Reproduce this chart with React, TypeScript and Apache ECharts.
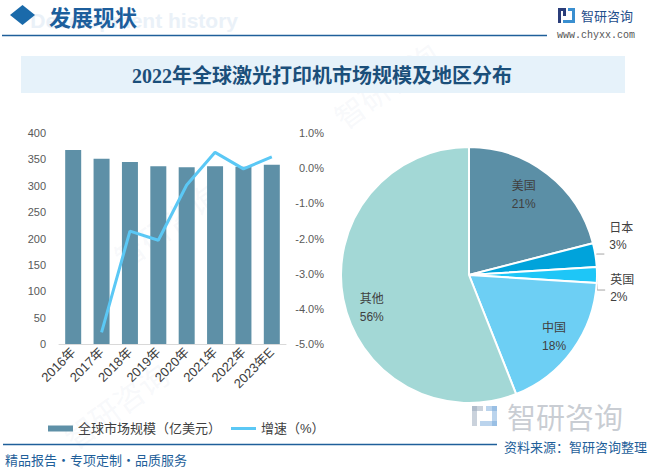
import React, { useEffect, useRef } from "react";
import * as echarts from "echarts";

const years = ["2016年", "2017年", "2018年", "2019年", "2020年", "2021年", "2022年", "2023年E"];
const marketSize = [368, 351, 345, 337, 335, 337, 336, 340];
const growthRate = [null, -4.67, -1.79, -2.05, -0.48, 0.45, -0.02, 0.32];
const regions = ["美国", "日本", "英国", "中国", "其他"];
const regionShares = [21, 3, 2, 18, 56];

const barName = "全球市场规模（亿美元）";
const lineName = "增速（%）";

const regionColors: Record<string, string> = {
  美国: "#5B8FA6",
  日本: "#00A3DB",
  英国: "#1EC6F7",
  中国: "#6DCFF4",
  其他: "#A3D8D6",
};
const outsideLabels = ["日本", "英国"];
const insideOffsets: Record<string, number[]> = {
  美国: [-6, -2],
  中国: [5, 4],
  其他: [0, 14],
};

const FONT = "'Liberation Sans', 'Noto Sans CJK SC', sans-serif";
const BLUE = "#1F5F9A";

export default function App() {
  const ref = useRef<HTMLDivElement>(null);
  useEffect(() => {
    if (!ref.current) return;
    const chart = echarts.init(ref.current, null, { renderer: "svg" });
    const watermark = (x: number, y: number) => ({
      type: "text",
      x,
      y,
      rotation: Math.PI / 5,
      silent: true,
      style: {
        text: "智研咨询",
        fontSize: 30,
        fontFamily: FONT,
        fill: "rgba(200,212,225,0.15)",
      },
      z: 0,
    });
    chart.setOption({
      animation: false,
      backgroundColor: "#ffffff",
      textStyle: { fontFamily: FONT },
      legend: {
        left: 43,
        top: 417,
        itemWidth: 25,
        itemHeight: 6,
        itemGap: 10,
        data: [
          { name: barName, icon: "rect" },
          { name: lineName, icon: "path://M0,0H25V3H0Z" },
        ],
        textStyle: { fontSize: 13, color: "#404040", fontFamily: FONT },
      },
      grid: { left: 59, right: 367, top: 133, bottom: 125 },
      xAxis: {
        type: "category",
        data: years,
        axisLine: { lineStyle: { color: "#D9D9D9" } },
        axisTick: { show: false },
        axisLabel: {
          rotate: 45,
          interval: 0,
          margin: 6,
          fontSize: 13,
          color: "#404040",
          fontFamily: FONT,
        },
      },
      yAxis: [
        {
          type: "value",
          min: 0,
          max: 400,
          interval: 50,
          splitLine: { show: false },
          axisLine: { show: false },
          axisTick: { show: false },
          axisLabel: { fontSize: 11, color: "#595959", margin: 13 },
        },
        {
          type: "value",
          min: -5,
          max: 1,
          interval: 1,
          position: "right",
          splitLine: { show: false },
          axisLine: { show: false },
          axisTick: { show: false },
          axisLabel: {
            fontSize: 11,
            color: "#595959",
            align: "right",
            margin: 38,
            formatter: (v: number) => v.toFixed(1) + "%",
          },
        },
      ],
      series: [
        {
          name: barName,
          type: "bar",
          data: marketSize,
          barWidth: 16,
          itemStyle: { color: "#5E90A7" },
          z: 2,
        },
        {
          name: lineName,
          type: "line",
          yAxisIndex: 1,
          data: growthRate,
          symbol: "none",
          lineStyle: { color: "#5BC8F5", width: 3 },
          itemStyle: { color: "#5BC8F5" },
          z: 3,
        },
        {
          name: "地区分布",
          type: "pie",
          center: [469, 275],
          radius: [0, 128],
          startAngle: 90,
          clockwise: true,
          data: regions.map((n, i) => ({
            name: n,
            value: regionShares[i],
            itemStyle: { color: regionColors[n] },
            label: { show: outsideLabels.includes(n) },
            labelLine: { show: outsideLabels.includes(n) },
          })),
          itemStyle: { borderColor: "#ffffff", borderWidth: 2 },
          label: {
            position: "outside",
            formatter: "{b}\n{c}%",
            fontSize: 12,
            lineHeight: 17,
            color: "#404040",
            align: "center",
          },
          labelLine: {
            length: 6,
            length2: 8,
            lineStyle: { color: "#A6A6A6", width: 1 },
          },
          labelLayout: (p: any) => (p.dataIndex === 1 ? { dy: -18 } : { dy: -2 }),
        },
        {
          name: "地区分布标签",
          type: "pie",
          center: [469, 275],
          radius: [64, 128],
          startAngle: 90,
          clockwise: true,
          silent: true,
          z: 3,
          data: regions.map((n, i) => ({
            name: n,
            value: regionShares[i],
            label: {
              show: !outsideLabels.includes(n),
              offset: insideOffsets[n] || [0, 0],
            },
          })),
          itemStyle: { color: "rgba(0,0,0,0)", borderWidth: 0 },
          label: {
            position: "inside",
            formatter: "{b}\n{c}%",
            fontSize: 12,
            lineHeight: 18,
            color: "#404040",
          },
          labelLine: { show: false },
        },
      ],
      graphic: [
        watermark(110, 250),
        watermark(330, 110),
        watermark(60, 430),
        {
          type: "text",
          x: 238,
          y: 20,
          silent: true,
          style: {
            text: "Development history",
            fontSize: 21,
            fontWeight: "bold",
            fontFamily: FONT,
            fill: "#EAF1F8",
            align: "right",
            verticalAlign: "middle",
          },
        },
        {
          type: "polygon",
          shape: { points: [[10, 15], [22.5, 5], [35, 15], [22.5, 25]] },
          style: { fill: "#1A6AAA" },
        },
        {
          type: "text",
          x: 49,
          y: 16,
          style: {
            text: "发展现状",
            fontSize: 22,
            fontWeight: "bold",
            fontFamily: "'Noto Sans CJK SC', sans-serif",
            fill: "#1C5E9C",
            verticalAlign: "middle",
          },
        },
        {
          type: "line",
          shape: { x1: 2, y1: 35.5, x2: 547, y2: 35.5 },
          style: { stroke: BLUE, lineWidth: 1.5 },
        },
        { type: "rect", shape: { x: 558, y: 8, width: 8, height: 3 }, style: { fill: "#2B3E7A" } },
        { type: "rect", shape: { x: 558, y: 8, width: 3, height: 15 }, style: { fill: "#2B3E7A" } },
        { type: "rect", shape: { x: 563, y: 8, width: 3, height: 8 }, style: { fill: "#2B3E7A" } },
        { type: "rect", shape: { x: 568, y: 8, width: 7, height: 3 }, style: { fill: "#3A8FD0" } },
        { type: "rect", shape: { x: 572, y: 8, width: 3, height: 15 }, style: { fill: "#3A8FD0" } },
        { type: "rect", shape: { x: 563, y: 20, width: 12, height: 3 }, style: { fill: "#3A8FD0" } },
        {
          type: "text",
          x: 581,
          y: 15,
          style: {
            text: "智研咨询",
            fontSize: 13,
            fontFamily: "'Noto Sans CJK SC', sans-serif",
            fill: "#1F4E8C",
            verticalAlign: "middle",
          },
        },
        {
          type: "text",
          x: 557,
          y: 35,
          style: {
            text: "www.chyxx.com",
            fontSize: 10,
            fontFamily: "'Liberation Mono', monospace",
            fill: "#555555",
            verticalAlign: "middle",
          },
        },
        {
          type: "rect",
          shape: { x: 21, y: 56, width: 604, height: 37 },
          style: { fill: "#E6F2FA" },
        },
        {
          type: "text",
          x: 322,
          y: 76,
          style: {
            text: "2022年全球激光打印机市场规模及地区分布",
            fontSize: 20,
            fontWeight: "bold",
            fontFamily: "'Liberation Serif', 'Noto Sans CJK SC', serif",
            fill: "#1B4F7A",
            align: "center",
            verticalAlign: "middle",
          },
        },
        { type: "rect", shape: { x: 472, y: 406, width: 11, height: 5 }, style: { fill: "rgba(150,165,185,0.5)" } },
        { type: "rect", shape: { x: 472, y: 406, width: 5, height: 20 }, style: { fill: "rgba(150,165,185,0.5)" } },
        { type: "rect", shape: { x: 486, y: 406, width: 11, height: 5 }, style: { fill: "rgba(120,170,220,0.5)" } },
        { type: "rect", shape: { x: 492, y: 406, width: 5, height: 20 }, style: { fill: "rgba(120,170,220,0.5)" } },
        { type: "rect", shape: { x: 480, y: 421, width: 17, height: 5 }, style: { fill: "rgba(120,170,220,0.5)" } },
        {
          type: "text",
          x: 507,
          y: 416,
          silent: true,
          style: {
            text: "智研咨询",
            fontSize: 29,
            fontFamily: "'Noto Sans CJK SC', sans-serif",
            fill: "rgba(165,172,182,0.6)",
            verticalAlign: "middle",
          },
        },
        {
          type: "line",
          shape: { x1: 3, y1: 444.5, x2: 497, y2: 444.5 },
          style: { stroke: BLUE, lineWidth: 1.5 },
        },
        {
          type: "text",
          x: 647,
          y: 446,
          style: {
            text: "资料来源：智研咨询整理",
            fontSize: 13,
            fontFamily: "'Noto Sans CJK SC', sans-serif",
            fill: BLUE,
            align: "right",
            verticalAlign: "middle",
          },
        },
        {
          type: "text",
          x: 5,
          y: 459,
          style: {
            text: "精品报告・专项定制・品质服务",
            fontSize: 13,
            fontFamily: "'Noto Sans CJK SC', sans-serif",
            fill: BLUE,
            verticalAlign: "middle",
          },
        },
      ],
    });
    return () => chart.dispose();
  }, []);
  return (
    <div
      ref={ref}
      style={{ position: "fixed", left: 0, top: 0, width: 653, height: 469 }}
    />
  );
}
